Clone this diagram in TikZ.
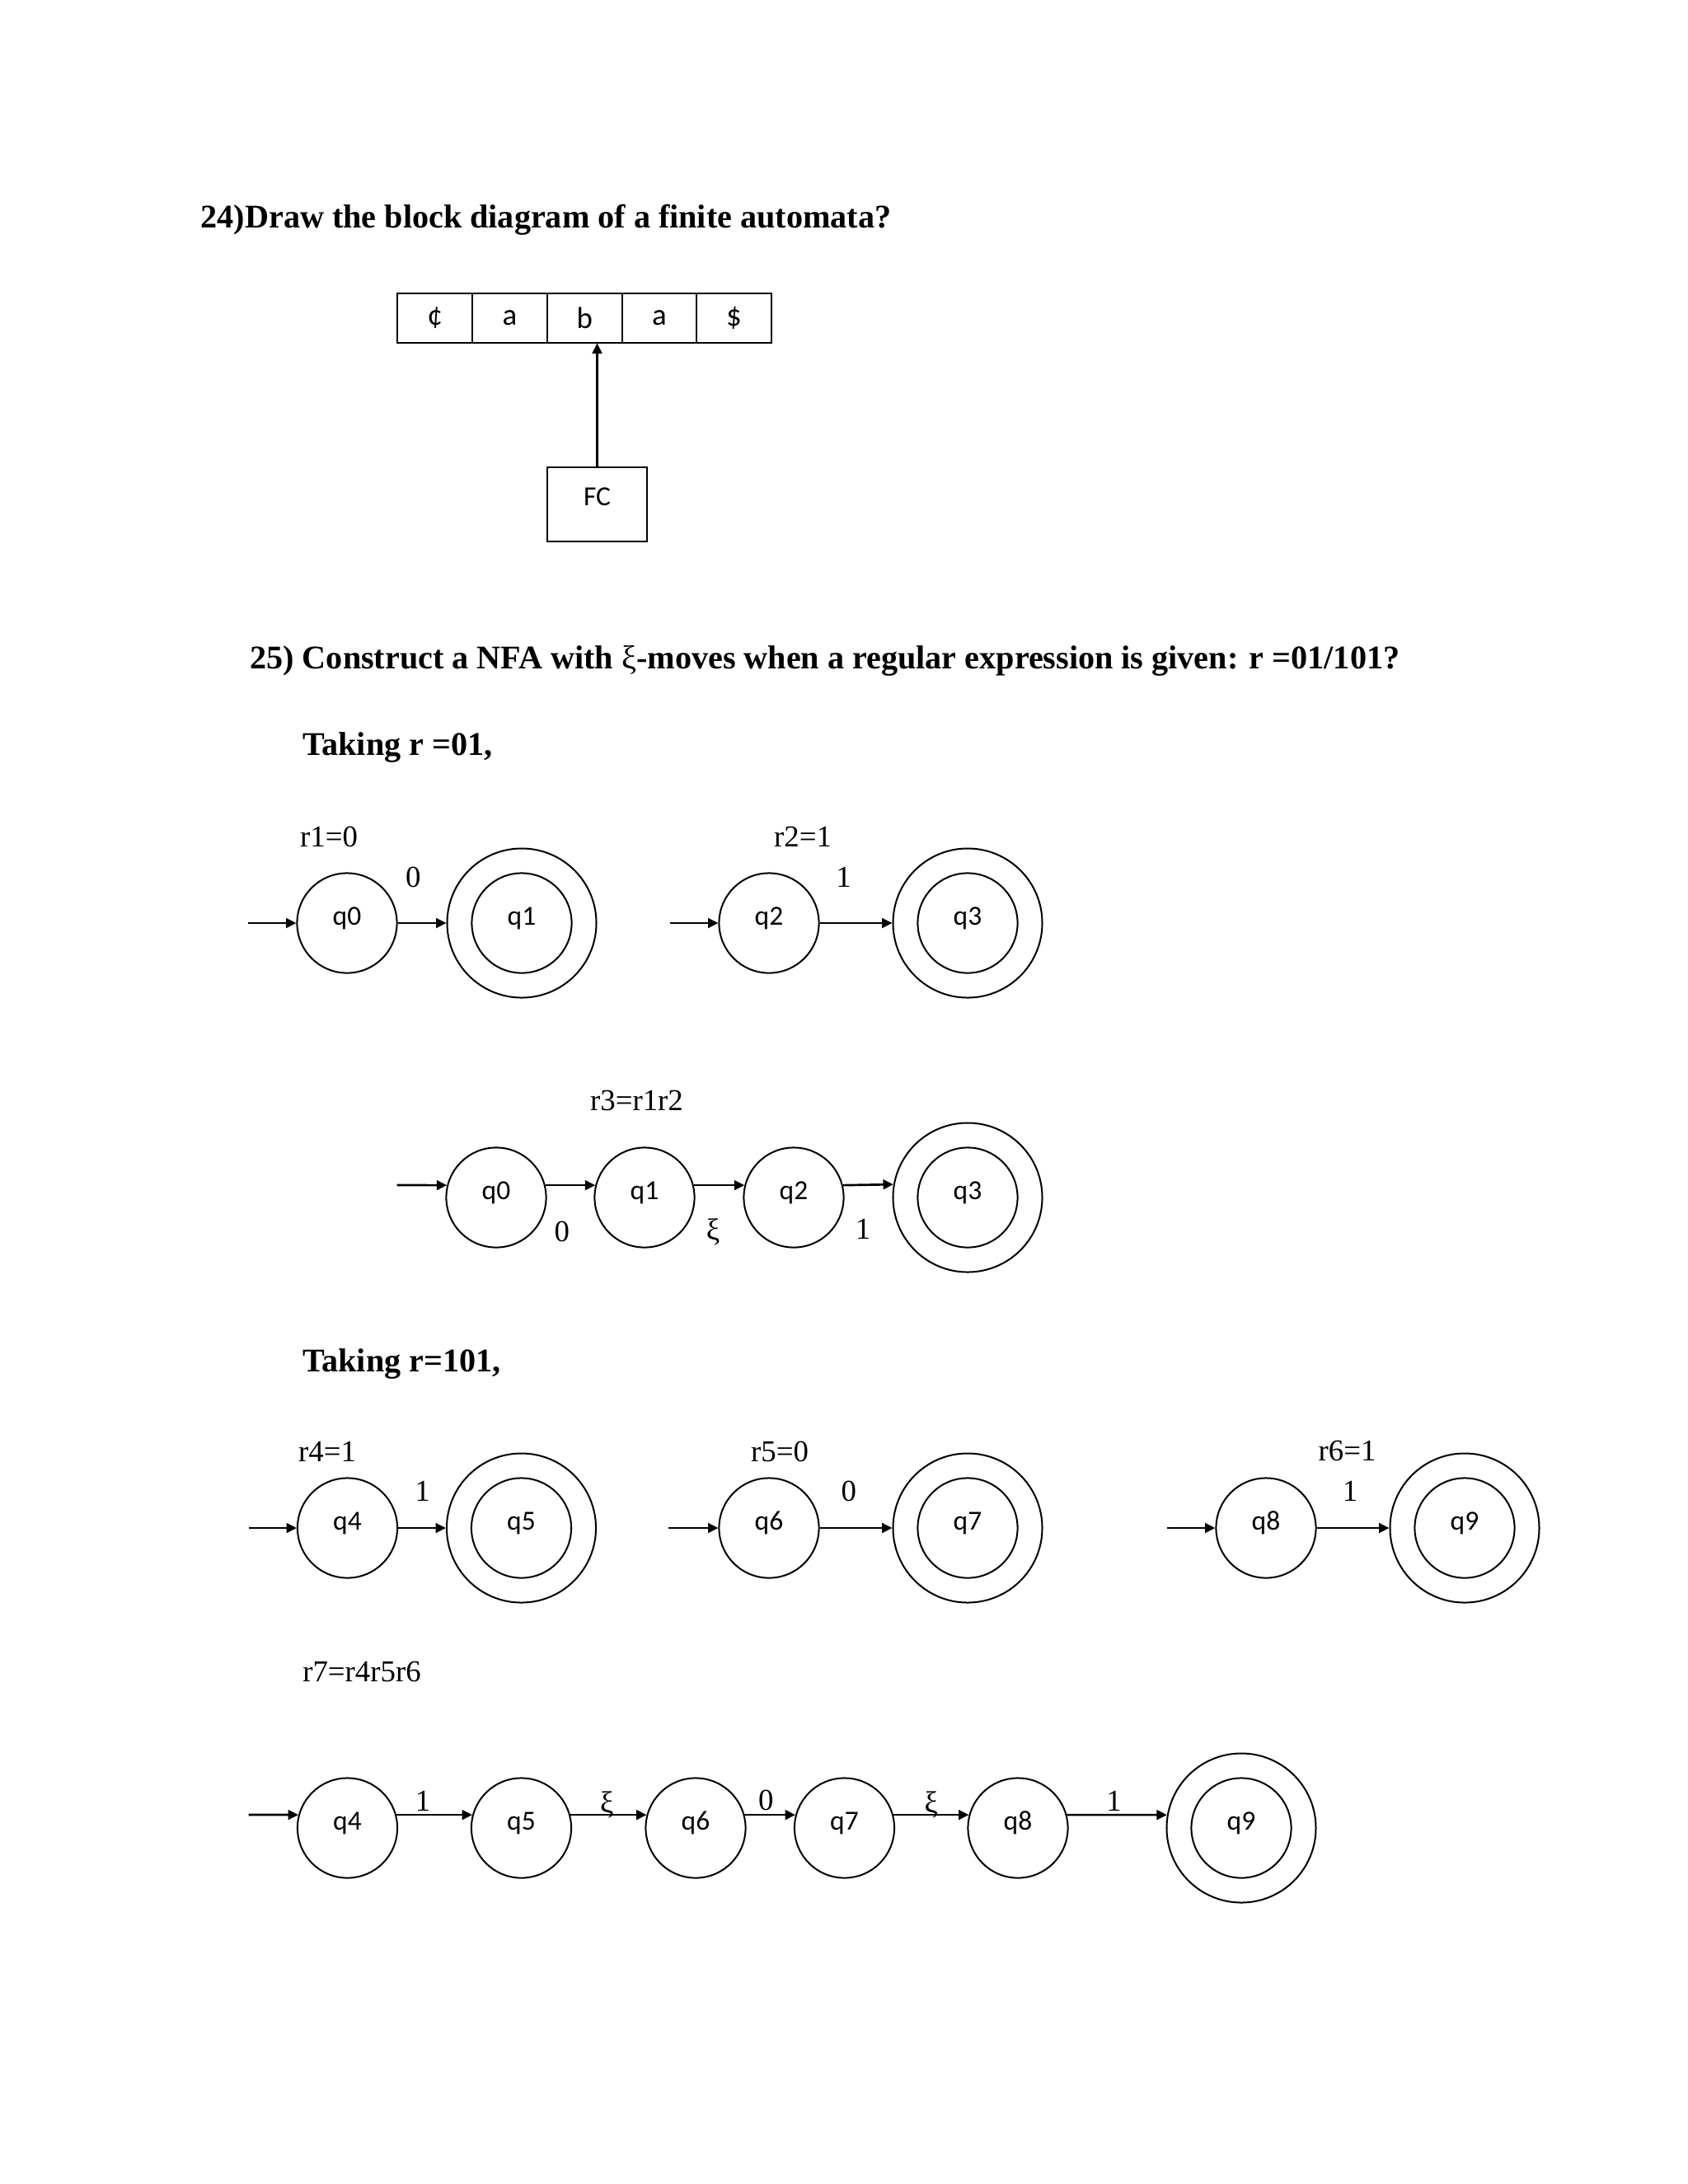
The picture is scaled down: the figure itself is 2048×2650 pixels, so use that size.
\documentclass[tikz,border=0pt]{standalone}
\usepackage{fontspec}
\setmainfont{Liberation Serif}
\newfontfamily\calib{Carlito}
\usetikzlibrary{arrows.meta,positioning,shapes}

\tikzset{
    qstate/.style={circle, draw, line width=0.6pt, minimum size=36.2pt, inner sep=0pt, text height=4pt, text depth=2.4pt, font=\calib\fontsize{10}{12}\selectfont},
    qfinal/.style={qstate, minimum size=54.1pt, path picture={\draw[line width=0.6pt] (path picture bounding box.center) circle (18.1pt);}}, % double ring
    trans/.style={-{Triangle[length=3.7pt,width=3.5pt]}, line width=0.8pt},
    lbl/.style={inner sep=0pt, font=\fontsize{11}{13}\selectfont},
    heading/.style={anchor=base west, inner sep=0pt, font=\bfseries\fontsize{12}{14}\selectfont},
    cell/.style={draw, line width=0.6pt, minimum width=27.1pt, minimum height=18.2pt, inner sep=0pt, outer sep=0pt, font=\calib\fontsize{11}{13}\selectfont},
    fcbox/.style={draw, line width=0.6pt, minimum width=36.2pt, minimum height=26.9pt, inner sep=0pt, font=\calib\fontsize{10}{12}\selectfont}
}

\begin{document}
\begin{tikzpicture}[x=0.29883pt, y=-0.29883pt]
    \path[use as bounding box] (0,0) rectangle (2048,2650);

    % question 24: tape and finite control
    \node[heading] (q24) at (243,276) {24)Draw the block diagram of a finite automata?};
    \node[cell] (t1) at (527.8,386) {¢};
    \node[cell, right=0pt of t1] (t2) {a};
    \node[cell, right=0pt of t2] (t3) {b};
    \node[cell, right=0pt of t3] (t4) {a};
    \node[cell, right=0pt of t4] (t5) {\$};
    \node[fcbox] (fc) at (724.5,612) {\raisebox{5.6pt}{FC}};
    \draw[trans] (fc.north) -- (fc.north |- t3.south);

    % question 25
    \node[heading] (q25) at (302.7,811.7) {25) Construct a NFA with {\mdseries ξ}-moves when a regular expression is given: r =01/101?};
    \node[heading] (take1) at (366.7,916.7) {Taking r =01,};

    % r1 and r2
    \node[lbl] (r1) at (399,1015) {r1=0};
    \node[qstate] (a0) at (421,1120) {q0};
    \node[qfinal] (a1) at (633,1120) {q1};
    \coordinate (a0in) at (300.5,1120);
    \draw[trans] (a0in) -- (a0);
    \draw[trans] (a0) -- node[lbl, pos=0.32, above=12.6pt] {0} (a1);

    \node[lbl] (r2) at (974,1015) {r2=1};
    \node[qstate] (b2) at (933,1120) {q2};
    \node[qfinal] (b3) at (1174,1120) {q3};
    \coordinate (b2in) at (813,1120);
    \draw[trans] (b2in) -- (b2);
    \draw[trans] (b2) -- node[lbl, pos=0.33, above=12.6pt] {1} (b3);

    % r3 = r1 r2
    \node[lbl] (r3) at (772.5,1335) {r3=r1r2};
    \node[qstate] (m0) at (602,1453) {q0};
    \node[qstate] (m1) at (782,1453) {q1};
    \node[qstate] (m2) at (963,1453) {q2};
    \node[qfinal] (m3) at (1174,1453) {q3};
    \coordinate (m0in) at (481.5,1438);
    \draw[trans] (m0in) -- (m0.166);
    \draw[trans] (m0.14) -- node[lbl, pos=0.33, below=12.6pt] {0} (m1.166);
    \draw[trans] (m1.14) -- node[lbl, pos=0.38, below=11.6pt] {ξ} (m2.166);
    \draw[trans] (m2.14) -- node[lbl, pos=0.4, below=12pt] {1} (m3.170.5);

    \node[heading] (take2) at (366.7,1664) {Taking r=101,};

    % r4, r5 and r6
    \node[lbl] (r4) at (397,1761) {r4=1};
    \node[qstate] (n4) at (421.5,1854) {q4};
    \node[qfinal] (n5) at (632.5,1854) {q5};
    \coordinate (n4in) at (301.7,1854);
    \draw[trans] (n4in) -- (n4);
    \draw[trans] (n4) -- node[lbl, pos=0.51, above=9.3pt] {1} (n5);

    \node[lbl] (r5) at (946,1761) {r5=0};
    \node[qstate] (n6) at (933,1854) {q6};
    \node[qfinal] (n7) at (1174,1854) {q7};
    \coordinate (n6in) at (811,1854);
    \draw[trans] (n6in) -- (n6);
    \draw[trans] (n6) -- node[lbl, pos=0.4, above=9.3pt] {0} (n7);

    \node[lbl] (r6) at (1634.6,1760) {r6=1};
    \node[qstate] (n8) at (1536,1854) {q8};
    \node[qfinal] (n9) at (1777,1854) {q9};
    \coordinate (n8in) at (1415.6,1854);
    \draw[trans] (n8in) -- (n8);
    \draw[trans] (n8) -- node[lbl, pos=0.46, above=9.3pt] {1} (n9);

    % r7 = r4 r5 r6
    \node[lbl] (r7) at (439,2028) {r7=r4r5r6};
    \node[qstate] (p4) at (421.5,2218) {q4};
    \node[qstate] (p5) at (632.5,2218) {q5};
    \node[qstate] (p6) at (844,2218) {q6};
    \node[qstate] (p7) at (1024.5,2218) {q7};
    \node[qstate] (p8) at (1235,2218) {q8};
    \node[qfinal] (p9) at (1506,2218) {q9};
    \coordinate (p4in) at (301.7,2202);
    \draw[trans] (p4in) -- (p4.165);
    \draw[trans] (p4.15) -- node[lbl, pos=0.35, above=1pt] {1} (p5.165);
    \draw[trans] (p5.15) -- node[lbl, pos=0.48, above=-1.5pt] {ξ} (p6.165);
    \draw[trans] (p6.15) -- node[lbl, pos=0.42, above=1.2pt] {0} (p7.165);
    \draw[trans] (p7.15) -- node[lbl, pos=0.5, above=-1.5pt] {ξ} (p8.165);
    \draw[trans] (p8.15) -- node[lbl, pos=0.47, above=1pt] {1} (p9.170.1);
\end{tikzpicture}
\end{document}
